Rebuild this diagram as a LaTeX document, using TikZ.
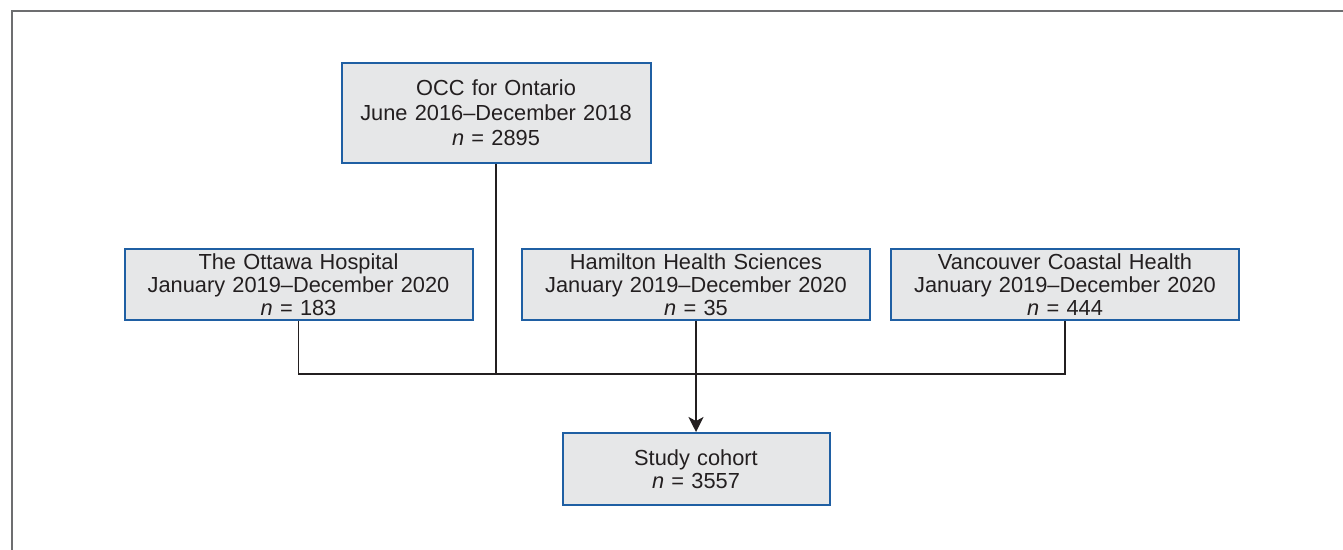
\documentclass[tikz,border=0pt]{standalone}
\usepackage{fontspec}
\setmainfont{Liberation Sans}
\usetikzlibrary{arrows.meta}
\definecolor{boxblue}{HTML}{1F5FA3}
\definecolor{boxfill}{HTML}{E6E7E8}
\definecolor{ink}{HTML}{231F20}
\definecolor{framegray}{HTML}{6D6E70}

\begin{document}
\begin{tikzpicture}[x=0.5pt,y=-0.5pt,
    site/.style ={rectangle, draw=boxblue, fill=boxfill, line width=1pt, text=ink, align=center,
      inner sep=0pt, minimum height=35.5pt, text width=174pt, font=\fontsize{10.9}{11.6}\selectfont},
    link/.style ={draw=ink, line width=0.8pt}]
   \useasboundingbox (0,0) rectangle (1343,550);
   \draw[framegray, line width=1pt] (1360,11.5) -- (11.5,11.5) -- (11.5,570);
   \node[site, minimum height=50pt, text width=154.5pt, font=\fontsize{10.9}{12.4}\selectfont] (occ) at (496,113)
     {OCC for Ontario\\June 2016–December 2018\\\textit{n} = 2895};
   \node[site] (ottawa) at (298.5,284.5) {The Ottawa Hospital\\January 2019–December 2020\\\textit{n} = 183};
   \node[site] (hamilton) at (696,284.5) {Hamilton Health Sciences\\January 2019–December 2020\\\textit{n} = 35};
   \node[site] (vancouver) at (1065,284.5) {Vancouver Coastal Health\\January 2019–December 2020\\\textit{n} = 444};
   \node[site, text width=133.5pt, minimum height=36pt] (cohort) at (696,469) {Study cohort\\\textit{n} = 3557};
   \coordinate (level) at (0,374);
   \draw[link] (ottawa.south) -- (ottawa.south |- level) -- (vancouver.south |- level) -- (vancouver.south);
   \draw[link] (occ.south) -- (occ.south |- level);
   \draw[link, -{Stealth[length=7.5pt, width=7.5pt, inset=2pt]}] (hamilton.south) -- (cohort.north);
 \end{tikzpicture}
\end{document}
